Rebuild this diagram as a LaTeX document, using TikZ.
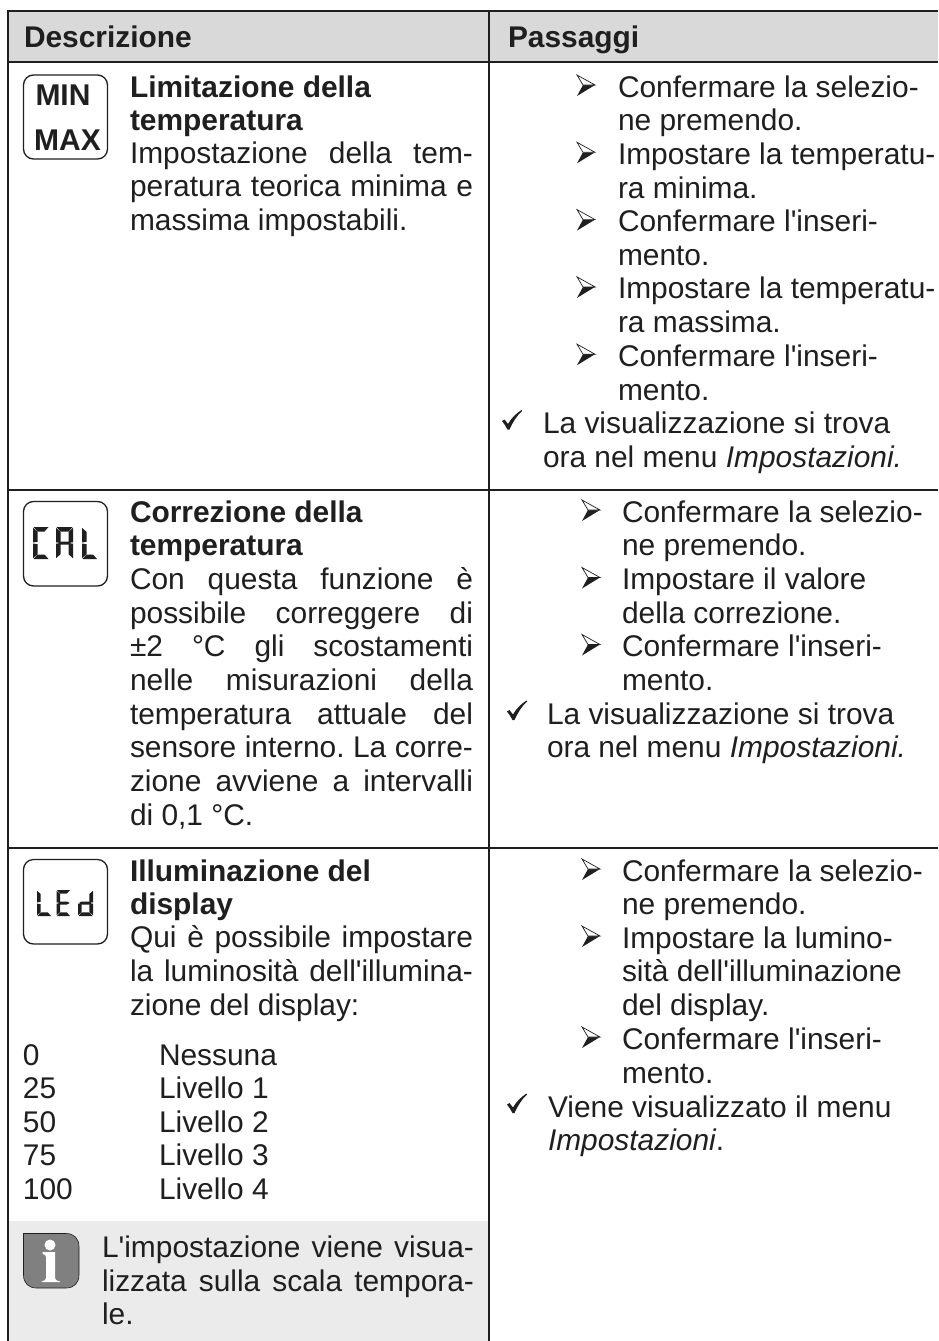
\documentclass[tikz,border=0pt]{standalone}
\usepackage{fontspec}
\setmainfont{Liberation Sans}[Ligatures=TeXOff]
\frenchspacing
\definecolor{ink}{HTML}{1F1F1F}
\definecolor{headgrey}{HTML}{D9D9D9}
\definecolor{notegrey}{HTML}{EBEBEB}
\definecolor{infogrey}{HTML}{808080}
\tikzset{
  txt/.style={anchor=base west,inner sep=0pt,outer sep=0pt,text=ink,font=\fontsize{29.9}{33}\selectfont},
  rule/.style={draw=ink,line width=2.8pt},
  iconbox/.style={draw=ink,line width=1.3pt,rounded corners=10pt},
  icontext/.style={anchor=base,inner sep=0pt,text=ink,font=\fontsize{30}{33}\selectfont\bfseries},
}
\newcommand\Tx[4]{\node[txt] (#1) at (#2,#3) {#4};}
\newcommand\Jx[5]{\node[txt] (#1) at (#2,#3) {\hbox to #4pt{\frenchspacing\spaceskip=.2em plus 1fil\relax #5}};}
\newcommand\Arw[2]{\begin{scope}[shift={(#1,#2)}]
  \fill[ink] (0,-1) -- (18,-12) -- (6,-12) -- cycle;
  \filldraw[draw=ink,fill=white,line width=.7pt] (0,-22) -- (18,-12) -- (6,-12) -- cycle;
\end{scope}}
\newcommand\Chk[2]{\begin{scope}[shift={(#1,#2)}]
  \fill[ink] (0,-12.5) -- (2.5,-14) -- (6,-9.5) .. controls (9,-15) and (14,-20) .. (19.5,-23.5) -- (20,-22.5) .. controls (15,-18) and (10.5,-11) .. (7.5,-4) -- (5.5,-4) .. controls (4,-7) and (2,-10) .. (0,-12.5) -- cycle;
\end{scope}}
\newcommand\SegA{\fill[ink] (.5,0) -- (\dw-.5,0) -- (\dw-\dt,\dt) -- (\dt,\dt) -- cycle;}
\newcommand\SegD{\fill[ink] (.5,\dh) -- (\dw-.5,\dh) -- (\dw-\dt,\dh-\dt) -- (\dt,\dh-\dt) -- cycle;}
\newcommand\SegF{\fill[ink] (0,.8) -- (\dt,\dt+.3) -- (\dt,\dh/2-1.2) -- (0,\dh/2-.5) -- cycle;}
\newcommand\SegE{\fill[ink] (0,\dh/2+.5) -- (\dt,\dh/2+1.2) -- (\dt,\dh-\dt-.3) -- (0,\dh-.8) -- cycle;}
\newcommand\SegB{\fill[ink] (\dw,.8) -- (\dw-\dt,\dt+.3) -- (\dw-\dt,\dh/2-1.2) -- (\dw,\dh/2-.5) -- cycle;}
\newcommand\SegC{\fill[ink] (\dw,\dh/2+.5) -- (\dw-\dt,\dh/2+1.2) -- (\dw-\dt,\dh-\dt-.3) -- (\dw,\dh-.8) -- cycle;}
\newcommand\SegG{\fill[ink] (.8,\dh/2) -- (\dt,\dh/2-1.5) -- (\dw-\dt,\dh/2-1.5) -- (\dw-.8,\dh/2) -- (\dw-\dt,\dh/2+1.5) -- (\dt,\dh/2+1.5) -- cycle;}
\newcommand\Dgt[6]{\begin{scope}[shift={(#1,#2)}]\def\dw{#3}\def\dh{#4}\def\dt{#5}#6\end{scope}}
\begin{document}
\begin{tikzpicture}[x=1pt,y=-1pt]
\useasboundingbox (0,0) rectangle (938,1341);
\fill[white] (0,0) rectangle (938,1341);
% header and note backgrounds
\fill[headgrey] (8,11) rectangle (938,62);
\fill[notegrey] (9,1221) rectangle (488,1341);
% rules
\draw[rule] (938,11) -- (8,11) -- (8,1341);
\draw[rule] (8,62) -- (938,62);
\draw[rule] (8,490) -- (938,490);
\draw[rule] (8,848) -- (938,848);
\draw[rule] (489,11) -- (489,1341);
% header
\Tx{hd}{24}{47}{\bfseries Descrizione}
\Tx{hp}{508}{47}{\bfseries Passaggi}
% row 1 left
\draw[iconbox] (23.5,75) rectangle (107.5,159);
\node[icontext] (imin) at (63,105) {MIN};
\node[icontext] (imax) at (67.5,150) {MAX};
\Tx{a1}{130}{97}{\bfseries Limitazione della}
\Tx{a2}{130}{130}{\bfseries temperatura}
\Jx{a3}{130}{163}{343}{Impostazione della tem-}
\Jx{a4}{130}{196.5}{343}{peratura teorica minima e}
\Tx{a5}{130}{230}{massima impostabili.}
% row 1 right
\Arw{577}{97}\Tx{b1}{618}{97}{Confermare la selezio-}
\Tx{b2}{618}{130.6}{ne premendo.}
\Arw{577}{164.3}\Tx{b3}{618}{164.3}{Impostare la temperatu-}
\Tx{b4}{618}{198}{ra minima.}
\Arw{577}{231.6}\Tx{b5}{618}{231.6}{Confermare l'inseri-}
\Tx{b6}{618}{265.2}{mento.}
\Arw{577}{298.9}\Tx{b7}{618}{298.9}{Impostare la temperatu-}
\Tx{b8}{618}{332.5}{ra massima.}
\Arw{577}{366.2}\Tx{b9}{618}{366.2}{Confermare l'inseri-}
\Tx{b10}{618}{400}{mento.}
\Chk{502}{433.5}\Tx{b11}{543}{433.5}{La visualizzazione si trova}
\Tx{b12}{543}{467}{ora nel menu \itshape Impostazioni.}
% row 2 left
\draw[iconbox] (23.5,501.5) rectangle (107.5,586);
\Dgt{33}{527}{16}{32}{4.5}{\SegA\SegF\SegE\SegD}
\Dgt{56}{527}{17}{32}{4.5}{\SegA\SegF\SegE\SegB\SegC\SegG}
\Dgt{82}{527}{15.5}{32}{4.5}{\SegF\SegE\SegD}
\Tx{c1}{130}{522}{\bfseries Correzione della}
\Tx{c2}{130}{555.6}{\bfseries temperatura}
\Jx{c3}{130}{589.5}{343}{Con questa funzione è}
\Jx{c4}{130}{623}{343}{possibile correggere di}
\Jx{c5}{130}{656.5}{343}{±2 °C gli scostamenti}
\Jx{c6}{130}{690.5}{343}{nelle misurazioni della}
\Jx{c7}{130}{724}{343}{temperatura attuale del}
\Jx{c8}{130}{757.5}{343}{sensore interno. La corre-}
\Jx{c9}{130}{791}{343}{zione avviene a intervalli}
\Tx{c10}{130}{825}{di 0,1 °C.}
% row 2 right
\Arw{582}{522}\Tx{d1}{622}{522}{Confermare la selezio-}
\Tx{d2}{622}{555.6}{ne premendo.}
\Arw{582}{589.5}\Tx{d3}{622}{589.5}{Impostare il valore}
\Tx{d4}{622}{623}{della correzione.}
\Arw{582}{656.5}\Tx{d5}{622}{656.5}{Confermare l'inseri-}
\Tx{d6}{622}{690.5}{mento.}
\Chk{507}{724}\Tx{d7}{547}{724}{La visualizzazione si trova}
\Tx{d8}{547}{757.5}{ora nel menu \itshape Impostazioni.}
% row 3 left
\draw[iconbox] (23.5,859.5) rectangle (107.5,944);
\Dgt{37}{890}{14.5}{26}{3.6}{\SegF\SegE\SegD}
\Dgt{56.5}{890}{14}{26}{3.6}{\SegA\SegF\SegE\SegD\SegG}
\Dgt{78}{890}{15}{26}{3.6}{\SegE\SegD\SegG\SegB\SegC}
\Tx{e1}{130}{881}{\bfseries Illuminazione del}
\Tx{e2}{130}{914}{\bfseries display}
\Jx{e3}{130}{947.5}{343}{Qui è possibile impostare}
\Jx{e4}{130}{981.5}{343}{la luminosità dell'illumina-}
\Tx{e5}{130}{1015}{zione del display:}
\Tx{v1}{23}{1065}{0}\Tx{w1}{159}{1065}{Nessuna}
\Tx{v2}{23}{1098.5}{25}\Tx{w2}{159}{1098.5}{Livello 1}
\Tx{v3}{23}{1132}{50}\Tx{w3}{159}{1132}{Livello 2}
\Tx{v4}{23}{1165.5}{75}\Tx{w4}{159}{1165.5}{Livello 3}
\Tx{v5}{23}{1199}{100}\Tx{w5}{159}{1199}{Livello 4}
% info note
\filldraw[draw=ink,line width=.6pt,fill=infogrey]
  (23.5,1233.5) -- (66,1233.5) .. controls (74,1233.5) and (79,1238.5) .. (79,1246.5)
  -- (79,1275) .. controls (79,1283) and (74,1288) .. (66,1288)
  -- (36.5,1288) .. controls (28.5,1288) and (23.5,1283) .. (23.5,1275) -- cycle;
\fill[white] (50,1245) circle[radius=5.5pt];
\fill[white] (42.5,1252) -- (55,1252) -- (55,1278) .. controls (55,1280) and (57,1281) .. (60,1281.5) -- (60,1282) -- (41.5,1282) -- (41.5,1281.5) .. controls (44,1281) and (46,1280) .. (46,1278) -- (46,1257) .. controls (46,1255) and (45,1254.5) .. (42.5,1254) -- cycle;
\Jx{f1}{102}{1257}{372}{L'impostazione viene visua-}
\Jx{f2}{102}{1291}{372}{lizzata sulla scala tempora-}
\Tx{f3}{102}{1324}{le.}
% row 3 right
\Arw{582}{881}\Tx{g1}{622}{881}{Confermare la selezio-}
\Tx{g2}{622}{914.5}{ne premendo.}
\Arw{582}{948}\Tx{g3}{622}{948}{Impostare la lumino-}
\Tx{g4}{622}{981.5}{sità dell'illuminazione}
\Tx{g5}{622}{1015}{del display.}
\Arw{582}{1049}\Tx{g6}{622}{1049}{Confermare l'inseri-}
\Tx{g7}{622}{1083}{mento.}
\Chk{507}{1117}\Tx{g8}{548}{1117}{Viene visualizzato il menu}
\Tx{g9}{548}{1150.5}{\itshape Impostazioni\upshape.}
\end{tikzpicture}
\end{document}
